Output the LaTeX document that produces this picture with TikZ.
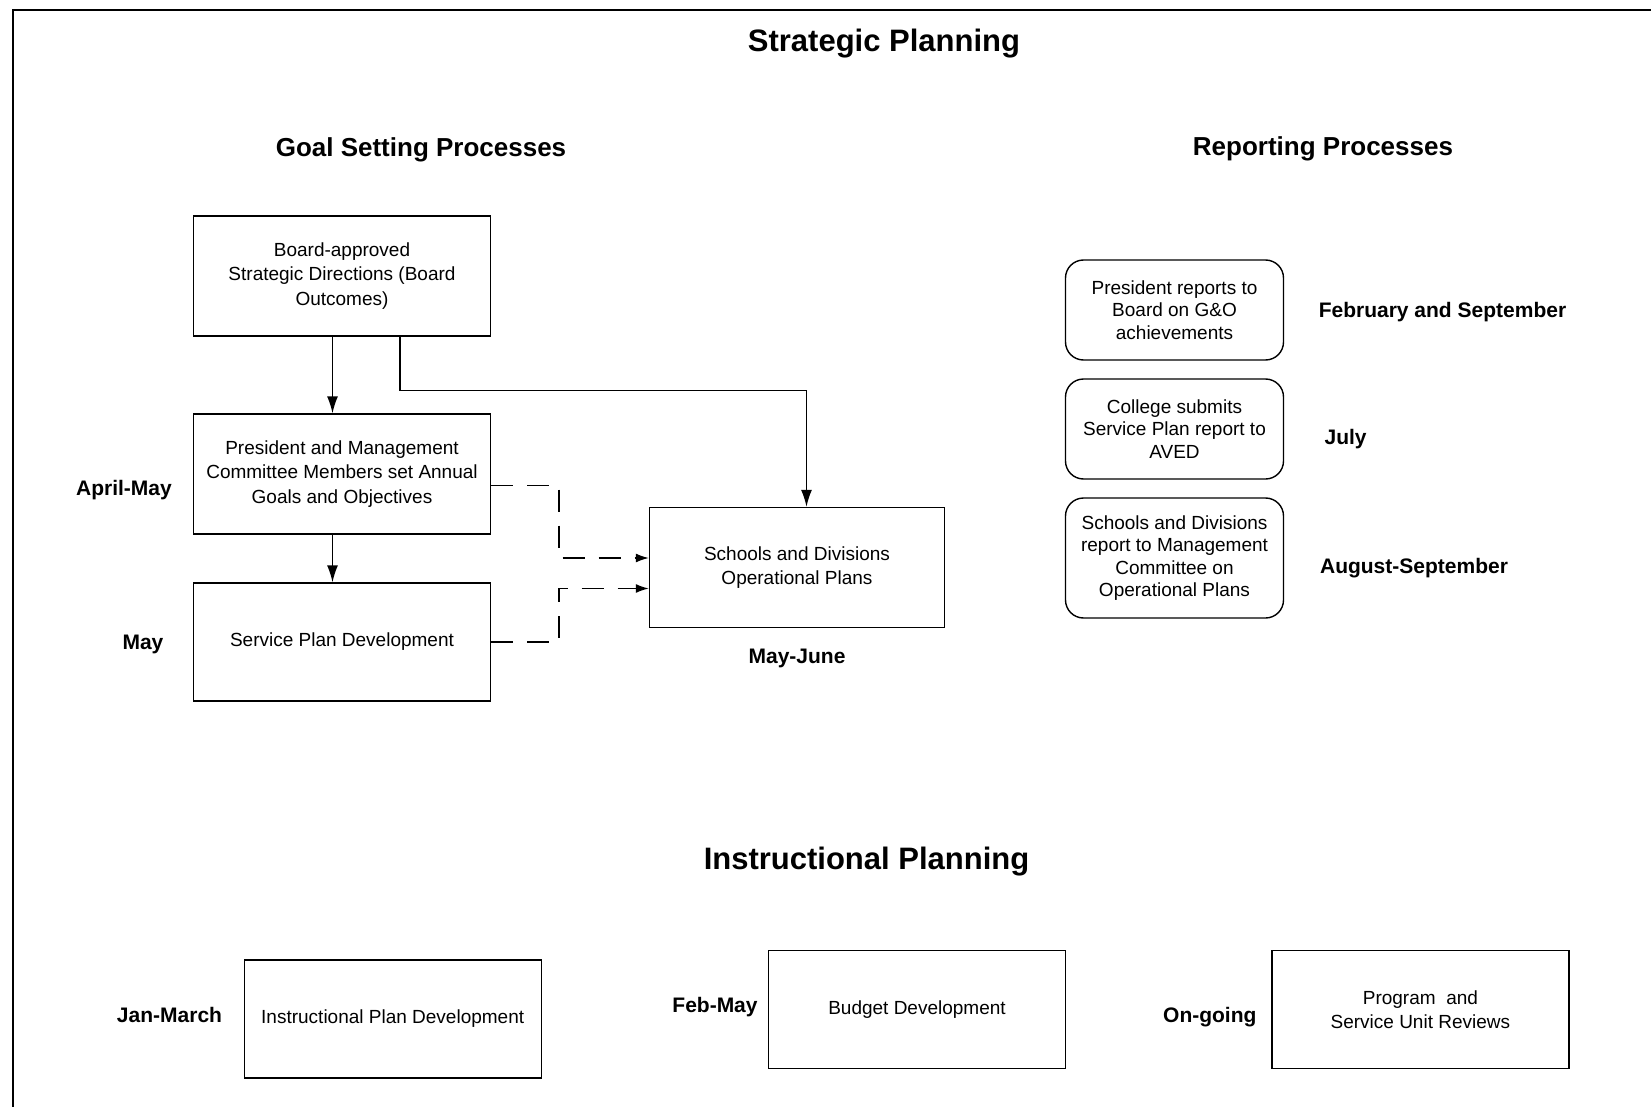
\documentclass[tikz,border=0pt]{standalone}
\usepackage{fontspec}
\setmainfont{Liberation Sans}
\usetikzlibrary{arrows.meta}
\newcommand\myBody{\fontsize{19}{24.5}\selectfont}
\newcommand\myRep{\fontsize{19}{22.5}\selectfont}
\newcommand\myLab{\fontsize{21}{25}\selectfont\bfseries}
\newcommand\myHead{\fontsize{26}{30}\selectfont\bfseries}
\newcommand\myTitle{\fontsize{31}{36}\selectfont\bfseries}
\tikzset{
  box/.style={draw, line width=1.4pt, minimum width=297pt, minimum height=120pt, align=center, font=\myBody, inner sep=0pt},
  rbox/.style={draw, line width=1.4pt, rounded corners=18pt, minimum width=218pt, align=center, font=\myRep, inner sep=0pt},
  lab/.style={font=\myLab, inner sep=0pt},
  head/.style={font=\myHead, inner sep=0pt},
  arr/.style={line width=1.4pt, -{Latex[length=17pt,width=11pt]}},
  dasharr/.style={line width=1.4pt, dash pattern=on 22pt off 14pt, -{Latex[length=13pt,width=9pt]}},
}
\begin{document}
\begin{tikzpicture}[x=1pt,y=-1pt]
\useasboundingbox (0,0) rectangle (1651,1107);
\fill[white] (0,0) rectangle (1651,1107);
% frame
\draw[line width=2pt] (12.6,1107) -- (12.6,10.5) -- (1651,10.5);

\node[font=\myTitle, inner sep=0pt] (title) at (884,44) {Strategic Planning};
\node[head] (goalh) at (421,150) {Goal Setting Processes};
\node[head] (reph) at (1323,149) {Reporting Processes};

% goal setting boxes
\node[box] (board) at (342,276) {Board-approved\\Strategic Directions (Board\\Outcomes)};
\node[box] (pres) at (342,474) {President and Management\\Committee Members set Annual\\Goals and Objectives};
\node[box, minimum height=118pt] (serv) at (342,642) {Service Plan Development};
\node[box, minimum width=295pt] (sch) at (797,567.5) {Schools and Divisions\\Operational Plans};

\node[lab] (lapr) at (124,490) {April-May};
\node[lab] (lmay) at (143,644.5) {May};
\node[lab] (lmj) at (797,658.5) {May-June};

% connectors
\draw[arr] ([xshift=-9.5pt]board.south) -- ([xshift=-9.5pt]pres.north);
\draw[arr] ([xshift=-9.5pt]pres.south) -- ([xshift=-9.5pt]serv.north);
\draw[arr] ([xshift=58pt]board.south) -- ++(0,53.7) -| ([xshift=9.5pt]sch.north);
\draw[dasharr] ([yshift=-11.4pt]pres.east) -| (559,558) -- ([yshift=9.5pt]sch.west);
\draw[dasharr] (serv.east) -| (559,588.5) -- ([yshift=-21pt]sch.west);

% reporting
\node[rbox, minimum height=100pt] (r1) at (1174.5,310) {President reports to\\Board on G\&O\\achievements};
\node[rbox, minimum height=100pt] (r2) at (1174.5,429) {College submits\\Service Plan report to\\AVED};
\node[rbox, minimum height=120pt] (r3) at (1174.5,558) {Schools and Divisions\\report to Management\\Committee on\\Operational Plans};
\node[lab] (lfeb) at (1442.5,312) {February and September};
\node[lab] (ljul) at (1345.6,439.5) {July};
\node[lab] (laug) at (1414,568) {August-September};

% instructional planning
\node[font=\myTitle, inner sep=0pt] (instr) at (866.5,862) {Instructional Planning};
\node[box, minimum height=118pt] (ipd) at (392.7,1019) {Instructional Plan Development};
\node[box, minimum height=118pt] (bud) at (917,1009.7) {Budget Development};
\node[box, minimum height=118pt] (prog) at (1420.4,1009.7) {Program~ and\\Service Unit Reviews};
\node[lab] (ljan) at (169.5,1015) {Jan-March};
\node[lab] (lfm) at (715,1007) {Feb-May};
\node[lab] (long) at (1209.8,1017) {On-going};
\end{tikzpicture}
\end{document}
